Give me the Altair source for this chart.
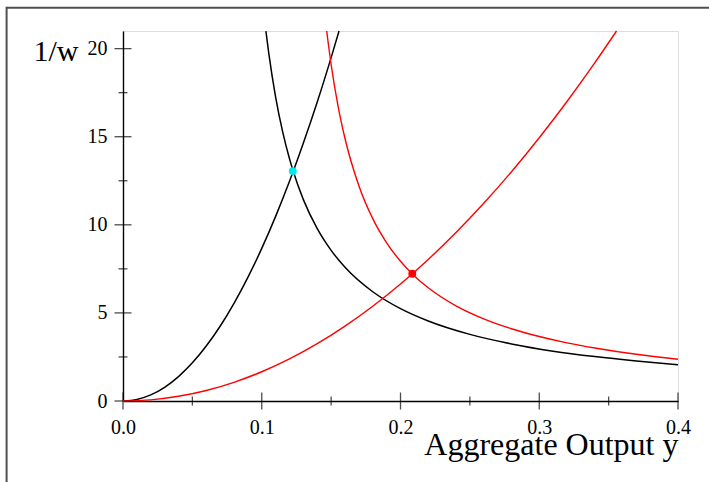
import altair as alt
import pandas as pd

# Aggregate output y on the horizontal axis, 1/w on the vertical axis
black_up_x = [0, 0.01, 0.02, 0.03, 0.04, 0.05, 0.06, 0.07, 0.08, 0.09, 0.10,
              0.11, 0.12, 0.13, 0.14, 0.15, 0.1557]
black_up_y = [0, 0.087, 0.346, 0.779, 1.386, 2.165, 3.118, 4.243, 5.542, 7.015,
              8.66, 10.48, 12.47, 14.64, 16.97, 19.49, 21.0]

red_up_x = [0, 0.02, 0.04, 0.06, 0.08, 0.10, 0.12, 0.14, 0.16, 0.18, 0.20,
            0.22, 0.24, 0.26, 0.28, 0.30, 0.32, 0.34, 0.3557]
red_up_y = [0, 0.066, 0.266, 0.598, 1.062, 1.66, 2.39, 3.254, 4.25, 5.378, 6.64,
            8.034, 9.562, 11.22, 13.01, 14.94, 17.0, 19.19, 21.0]

black_down_x = [0.103, 0.105, 0.11, 0.115, 0.12, 0.1224, 0.13, 0.14, 0.15, 0.16,
                0.18, 0.20, 0.22, 0.25, 0.28, 0.31, 0.34, 0.37, 0.40]
black_down_y = [20.99, 19.77, 17.25, 15.30, 13.75, 13.11, 11.43, 9.78, 8.55, 7.59,
                6.20, 5.24, 4.54, 3.78, 3.24, 2.83, 2.52, 2.27, 2.06]

red_down_x = [0.1468, 0.15, 0.155, 0.16, 0.17, 0.18, 0.19, 0.20, 0.21, 0.22,
              0.24, 0.26, 0.28, 0.30, 0.32, 0.34, 0.37, 0.40]
red_down_y = [21.0, 19.10, 16.74, 14.90, 12.22, 10.35, 8.98, 7.93, 7.10, 6.43,
              5.40, 4.66, 4.10, 3.66, 3.30, 3.01, 2.65, 2.37]

# equilibrium points
eq_x = [0.1224, 0.2085]
eq_y = [13.05, 7.22]
eq_color = ["#00e8f0", "#ff0000"]

x_major = [0, 0.1, 0.2, 0.3, 0.4]
x_minor = [0.05, 0.15, 0.25, 0.35]
y_major = [0, 5, 10, 15, 20]
y_minor = [2.5, 7.5, 12.5, 17.5]

FONT = "Liberation Serif"

xscale = alt.Scale(domain=[0, 0.4], nice=False, zero=False)
yscale = alt.Scale(domain=[0, 21], nice=False, zero=False)

xaxis = alt.Axis(values=x_major, format=".1f", grid=False, ticks=False, tickSize=0,
                 labelFlush=False, labelOverlap=False,
                 labelPadding=16, labelFont=FONT, labelFontSize=20, labelColor="black",
                 domainColor="black", domainWidth=1.4,
                 title="Aggregate Output y", titleFont=FONT, titleFontSize=32,
                 titleFontWeight="normal", titleColor="black", titleAlign="right",
                 titleBaseline="alphabetic", titleX=555, titleY=53)
yaxis = alt.Axis(values=y_major, format="d", grid=False, ticks=False, tickSize=0,
                 labelFlush=False, labelOverlap=False,
                 labelPadding=16, labelFont=FONT, labelFontSize=20, labelColor="black",
                 domainColor="black", domainWidth=1.4,
                 title="1/w", titleFont=FONT, titleFontSize=30, titleAngle=0,
                 titleFontWeight="normal", titleColor="black", titleAlign="left",
                 titleBaseline="alphabetic", titleX=-90, titleY=29)


def curve(xs, ys, color, width):
    df = pd.DataFrame({"x": xs, "y": ys, "i": range(len(xs))})
    return alt.Chart(df).mark_line(color=color, strokeWidth=width,
                                   interpolate="monotone").encode(
        x=alt.X("x:Q", scale=xscale, axis=xaxis),
        y=alt.Y("y:Q", scale=yscale, axis=yaxis),
        order="i:O",
    )


def xticks(vals, length):
    return alt.Chart(pd.DataFrame({"x": vals})).mark_tick(
        orient="vertical", size=length, thickness=1.3, color="black"
    ).encode(x=alt.X("x:Q", scale=xscale, axis=xaxis), y=alt.datum(0))


def yticks(vals, length):
    return alt.Chart(pd.DataFrame({"y": vals})).mark_tick(
        orient="horizontal", size=length, thickness=1.3, color="black"
    ).encode(y=alt.Y("y:Q", scale=yscale, axis=yaxis), x=alt.datum(0))


points = alt.Chart(pd.DataFrame({"x": eq_x, "y": eq_y, "c": eq_color})).mark_circle(
    size=62, opacity=1
).encode(
    x=alt.X("x:Q", scale=xscale, axis=xaxis),
    y=alt.Y("y:Q", scale=yscale, axis=yaxis),
    color=alt.Color("c:N", scale=None),
)

# outer frame along the top and left edges of the figure
frame_top = alt.Chart(pd.DataFrame({"a": [0]})).mark_rule(
    color="#505050", strokeWidth=2
).encode(x=alt.value(-116), x2=alt.value(600), y=alt.value(-23.3))
frame_left = alt.Chart(pd.DataFrame({"a": [0]})).mark_rule(
    color="#505050", strokeWidth=2
).encode(x=alt.value(-116.4), y=alt.value(-24.3), y2=alt.value(460))

chart = alt.layer(
    frame_top, frame_left,
    xticks(x_major, 17), xticks(x_minor, 9),
    yticks(y_major, 17), yticks(y_minor, 9),
    curve(black_up_x, black_up_y, "black", 1.5),
    curve(black_down_x, black_down_y, "black", 1.5),
    curve(red_up_x, red_up_y, "#ff0000", 1.4),
    curve(red_down_x, red_down_y, "#ff0000", 1.4),
    points,
).properties(
    width=555, height=370,
    autosize=alt.AutoSizeParams(type="none"),
    padding={"left": 123, "top": 31, "right": 31, "bottom": 81},
).configure_view(stroke=None).configure(background="white")

chart.save("out.html", embed_options={"renderer": "svg", "actions": False})
